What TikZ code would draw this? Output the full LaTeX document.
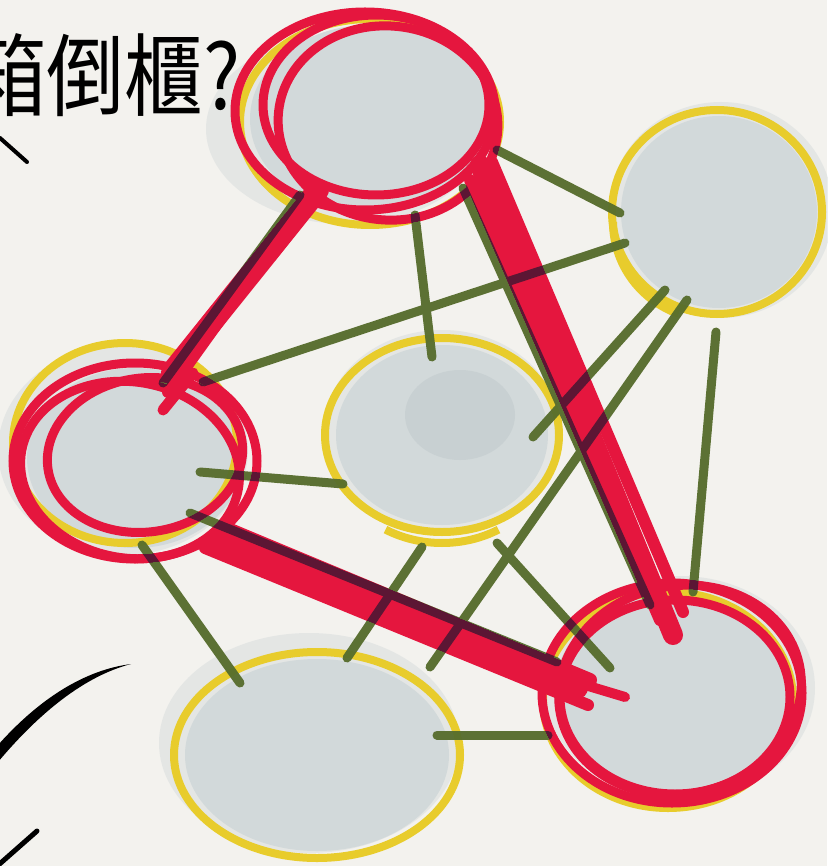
\documentclass[tikz,border=0pt]{standalone}
\usepackage{fontspec}
\newfontfamily\cjk{Noto Sans CJK TC}
\usetikzlibrary{shapes.geometric,calc}
\definecolor{bgc}{HTML}{F3F2EE}
\definecolor{grayc}{HTML}{D2D9DA}
\definecolor{grayd}{HTML}{C2CBCD}
\definecolor{yelc}{HTML}{E8CC2C}
\definecolor{redc}{HTML}{E5163E}
\definecolor{grnc}{HTML}{5C7134}
\begin{document}
\begin{tikzpicture}[x=1pt,y=-1pt,
  blob/.style={ellipse, inner sep=0pt, draw=none},
  yel/.style={draw=yelc, line width=8pt},
  redo/.style={draw=redc, line width=9pt},
  gline/.style={draw=grnc, line width=9pt, line cap=round, blend mode=darken},
  rline/.style={draw=redc, line cap=round},
  softa/.style={fill=grayc, opacity=0.45},
  softb/.style={fill=grayc}
]
\useasboundingbox (0,0) rectangle (827,866);
\fill[bgc] (0,0) rectangle (827,866);

% nodes (circles)
\node[blob, minimum width=260pt, minimum height=200pt] (T)  at (366,117) {};
\node[blob, minimum width=210pt, minimum height=206pt] (RT) at (717,212) {};
\node[blob, minimum width=244pt, minimum height=196pt] (L)  at (135,458) {};
\node[blob, minimum width=234pt, minimum height=194pt] (M)  at (442,435) {};
\node[blob, minimum width=260pt, minimum height=220pt] (BR) at (672,693) {};
\node[blob, minimum width=286pt, minimum height=206pt] (BL) at (317,755) {};

% gray fills
\fill[softa] ($(T)+(-20,12)$) ellipse [x radius=140, y radius=95];
\fill[softb] ($(T)+(4,2)$) ellipse [x radius=120, y radius=94];
\fill[softa] ($(RT)+(4,-2)$) ellipse [x radius=112, y radius=108];
\fill[softb] ($(RT)+(2,0)$) ellipse [x radius=98, y radius=96];
\fill[softa] ($(L)+(-12,-8)$) ellipse [x radius=125, y radius=105];
\fill[softb] ($(L)+(0,0)$) ellipse [x radius=108, y radius=90];
\fill[softa] ($(M)+(0,-5)$) ellipse [x radius=118, y radius=100];
\fill[softb] ($(M)+(0,0)$) ellipse [x radius=106, y radius=90];
\fill[grayd, opacity=0.6] ($(M)+(18,-20)$) ellipse [x radius=55, y radius=45];
\fill[softa] ($(BR)+(8,-5)$) ellipse [x radius=135, y radius=112];
\fill[softb] ($(BR)+(0,0)$) ellipse [x radius=118, y radius=100];
\fill[softa] ($(BL)+(-8,-12)$) ellipse [x radius=150, y radius=110];
\fill[softb] ($(BL)+(0,0)$) ellipse [x radius=132, y radius=96];

% yellow outlines
\draw[yel] ($(T)+(4,5)$) ellipse [x radius=130, y radius=103];
\draw[yel] (RT) ellipse [x radius=105, y radius=102];
\draw[yel] ($(RT)+(-104,10)$) arc [start angle=180, end angle=110, x radius=100, y radius=98];
\draw[yel] ($(L)+(-10,-15)$) ellipse [x radius=112, y radius=100];
\draw[yel] (M) ellipse [x radius=117, y radius=97];
\draw[yel] ($(M)+(0,8)$) ++(-56.5,86.6) arc [start angle=120, end angle=60, x radius=113, y radius=100];
\draw[yel] ($(BR)+(-4,7)$) ellipse [x radius=125, y radius=108];
\draw[yel] (BL) ellipse [x radius=143, y radius=103];

% red outlines
\draw[redo] ($(T)+(-1,-6)$) ellipse [x radius=130, y radius=99];
\draw[redo] ($(T)+(10,-12)$) ellipse [x radius=113, y radius=90];
\draw[redo] ($(T)+(22,6)$) ellipse [x radius=110, y radius=97, rotate=-6];
\draw[redo] ($(L)+(0,3)$) ellipse [x radius=122, y radius=98];
\draw[redo] ($(L)+(10,-3)$) ellipse [x radius=98, y radius=77, rotate=8];
\draw[redo] ($(L)+(-5,12)$) ellipse [x radius=110, y radius=88, rotate=-10];
\draw[redo] (BR) ellipse [x radius=130, y radius=110];
\draw[redo] ($(BR)+(3,4)$) ellipse [x radius=115, y radius=97];
\draw[redo] ($(BR)+(8,-3)$) ellipse [x radius=122, y radius=104, rotate=12];

% red path lines
\draw[rline, line width=22pt] ($(T)+(-48,73)$) -- ($(L)+(37,-86)$);
\draw[rline, line width=12pt] ($(T)+(-58,80)$) -- ($(L)+(33,-66)$);
\draw[rline, line width=11pt] ($(L)+(58,-85)$) -- ($(L)+(28,-48)$);
\draw[rline, line width=20pt] ($(T)+(114,48)$) -- ($(BR)+(1,-58)$);
\draw[rline, line width=12pt] ($(T)+(104,63)$) -- ($(BR)+(-12,-73)$);
\draw[rline, line width=12pt] ($(T)+(126,45)$) -- ($(BR)+(11,-81)$);
\draw[rline, line width=22pt] ($(L)+(80,82)$) -- ($(BR)+(-95,-5)$);
\draw[rline, line width=14pt] ($(L)+(95,72)$) -- ($(BR)+(-82,-13)$);
\draw[rline, line width=12pt] ($(L)+(70,90)$) -- ($(BR)+(-84,12)$);
\draw[rline, line width=10pt] ($(BR)+(-87,-8)$) -- ($(BR)+(-47,4)$);

% green edges
\draw[gline] ($(T)+(131,33)$) -- ($(RT)+(-97,1)$);
\draw[gline] ($(T)+(49,98)$) -- ($(M)+(-10,-78)$);
\draw[gline] ($(L)+(68,-76)$) -- ($(RT)+(-92,31)$);
\draw[gline] ($(M)+(91,2)$) -- ($(RT)+(-52,78)$);
\draw[gline] ($(L)+(65,14)$) -- ($(M)+(-99,49)$);
\draw[gline] ($(RT)+(-30,88)$) -- ($(BL)+(113,-88)$);
\draw[gline] ($(RT)+(-1,120)$) -- ($(BR)+(21,-101)$);
\draw[gline] ($(L)+(7,87)$) -- ($(BL)+(-77,-72)$);
\draw[gline] ($(M)+(-20,112)$) -- ($(BL)+(30,-97)$);
\draw[gline] ($(M)+(55,108)$) -- ($(BR)+(-62,-25)$);
\draw[gline] ($(BL)+(120,-20)$) -- ($(BR)+(-124,42)$);
\draw[gline] ($(T)+(-66,78)$) -- ($(L)+(28,-75)$);
\draw[gline] ($(T)+(97,71)$) -- ($(BR)+(-22,-88)$);
\draw[gline] ($(L)+(55,55)$) -- ($(BR)+(-115,-31)$);

% handwriting
\node[anchor=base west, inner sep=0pt, xscale=0.87, font=\cjk\fontsize{90}{90}\selectfont] (title) at (-32,110) {箱倒櫃?};
\draw[line width=4pt, line cap=round] (0,138) -- (27,162);
\fill ( -2,762) .. controls (40,712) and (85,676) .. (131,664)
      .. controls (85,670) and (40,698) .. (-2,745) -- cycle;
\draw[line width=5pt, line cap=round] (-5,868) -- (37,831);
\end{tikzpicture}
\end{document}
